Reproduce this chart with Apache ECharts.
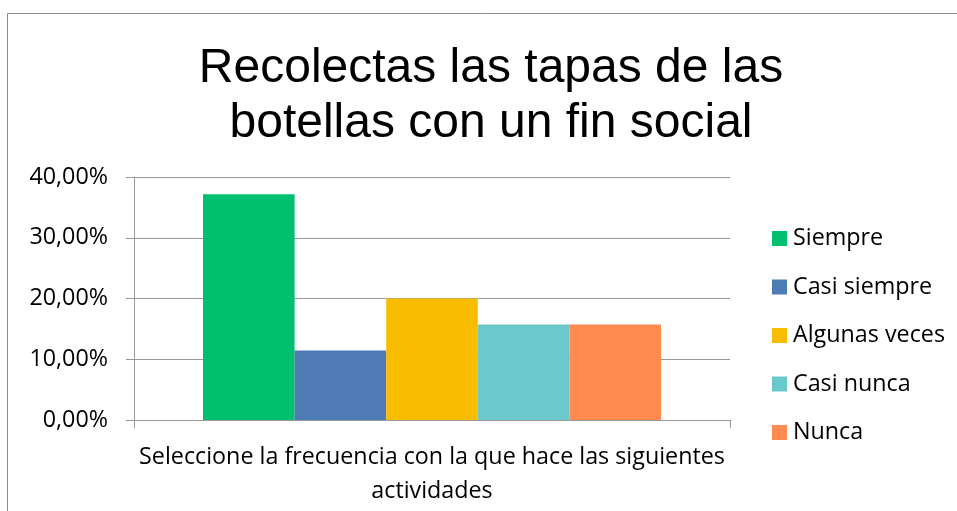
<!DOCTYPE html>
<html>
<head>
<meta charset="utf-8">
<script src="https://cdn.jsdelivr.net/npm/echarts@6/dist/echarts.min.js"></script>
<style>
html,body{margin:0;padding:0;background:#fff;}
#chart{width:957px;height:511px;}
</style>
</head>
<body>
<div id="chart"></div>
<script>
const titleText = 'Recolectas las tapas de las\nbotellas con un fin social';
const categories = ['Seleccione la frecuencia con la que hace las siguientes actividades'];
const seriesNames = ['Siempre', 'Casi siempre', 'Algunas veces', 'Casi nunca', 'Nunca'];
const siempre = [0.3714];
const casiSiempre = [0.1143];
const algunasVeces = [0.2000];
const casiNunca = [0.1571];
const nunca = [0.1571];
const colors = ['#00BF6F', '#4F7BB4', '#F8BD00', '#6BC8CB', '#FF8B50'];
const yTicks = { min: 0, max: 0.4, interval: 0.1 };

const seriesValues = [siempre, casiSiempre, algunasVeces, casiNunca, nunca];
const font = '"Open Sans", sans-serif';
const fs = 23.3;

const chart = echarts.init(document.getElementById('chart'));
chart.setOption({
  animation: false,
  backgroundColor: '#fff',
  color: colors,
  title: {
    text: titleText,
    left: 486,
    top: 36,
    textAlign: 'center',
    textStyle: { fontFamily: '"Liberation Sans", Arial, sans-serif', fontSize: 48, fontWeight: 'normal', color: '#000', lineHeight: 55 }
  },
  graphic: [{
    type: 'rect',
    shape: { x: 7.5, y: 13.5, width: 1000, height: 600 },
    style: { fill: 'none', stroke: '#8c8c8c', lineWidth: 1 },
    silent: true, z: -1
  }],
  legend: {
    orient: 'vertical',
    left: 772,
    top: 227,
    padding: 0,
    itemWidth: 15,
    itemHeight: 15,
    itemGap: 25.5,
    icon: 'rect',
    textStyle: { fontFamily: font, fontSize: fs, color: '#000', padding: [0, 0, 0, 1] },
    data: seriesNames
  },
  grid: { left: 134, right: 227, top: 177, bottom: 91, containLabel: false },
  xAxis: {
    type: 'category',
    data: categories,
    axisLine: { show: true, lineStyle: { color: '#999', width: 1 } },
    axisTick: { show: true, length: 8, lineStyle: { color: '#999' } },
    axisLabel: {
      fontFamily: font, fontSize: fs, color: '#000', margin: 20, lineHeight: 34,
      formatter: v => v.replace(' actividades', '\nactividades')
    }
  },
  yAxis: {
    type: 'value',
    min: yTicks.min, max: yTicks.max, interval: yTicks.interval,
    axisLine: { show: true, lineStyle: { color: '#999', width: 1 } },
    axisTick: { show: true, length: 8, lineStyle: { color: '#999' } },
    splitLine: { show: true, lineStyle: { color: '#999', width: 1 } },
    axisLabel: {
      fontFamily: font, fontSize: fs, color: '#000', margin: 26,
      formatter: v => (v * 100).toFixed(2).replace('.', ',') + '%'
    }
  },
  series: seriesNames.map((n, i) => ({
    name: n,
    type: 'bar',
    data: seriesValues[i],
    barWidth: 91.6,
    barGap: '0%',
    itemStyle: { color: colors[i] }
  }))
});
</script>
</body>
</html>
